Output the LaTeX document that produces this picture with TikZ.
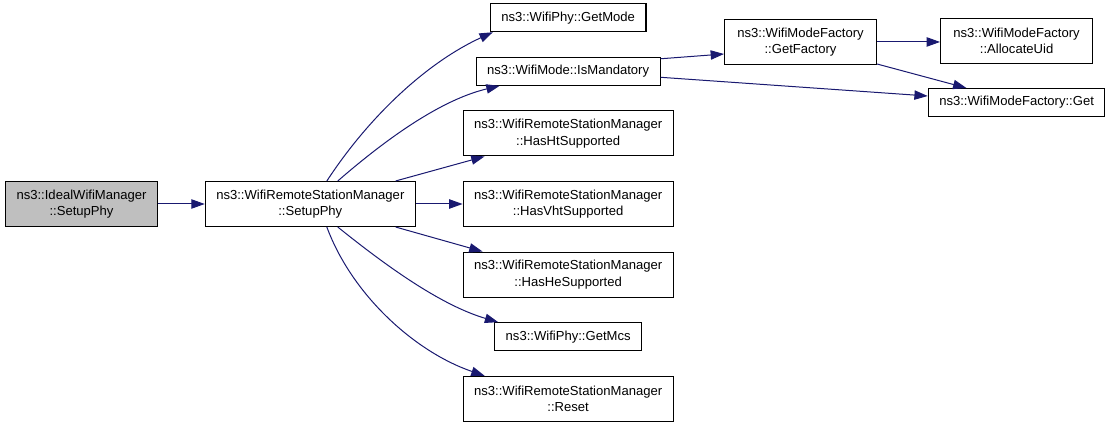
\documentclass[tikz,border=0pt]{standalone}
\usepackage{fontspec}
\setmainfont{Liberation Sans}
\usepackage{xcolor}
\usetikzlibrary{positioning,arrows.meta}
\definecolor{edgeblue}{HTML}{191970}
\definecolor{nodegray}{HTML}{BFBFBF}
\tikzstyle{func} = [rectangle, draw=black, line width=0.8pt, fill=white, inner xsep=8.25pt, inner ysep=0pt, minimum height=21pt, align=center, font=\fontsize{9.8}{12.5}\selectfont]
\tikzstyle{twoline} = [minimum height=33.75pt]
\tikzstyle{call} = [draw=edgeblue, line width=0.75pt, -{Triangle[length=10pt,width=7pt]}]

\begin{document}
\begin{tikzpicture}[x=0.75pt, y=-0.75pt, node distance=18.4pt]

		\useasboundingbox (0,0) rectangle (1107,424);

		\node (ideal) [func, twoline, fill=nodegray, anchor=west] at (5,204) {ns3::IdealWifiManager\\::SetupPhy};
		\node (setup) [func, twoline, right=35pt of ideal] {ns3::WifiRemoteStationManager\\::SetupPhy};
		\node (hasvht) [func, twoline, right=35pt of setup] {ns3::WifiRemoteStationManager\\::HasVhtSupported};
		\node (hasht) [func, twoline, above=of hasvht] {ns3::WifiRemoteStationManager\\::HasHtSupported};
		\node (ismand) [func, above=of hasht] {ns3::WifiMode::IsMandatory};
		\node (getmode) [func, above=of ismand] {ns3::WifiPhy::GetMode};
		\node (hashe) [func, twoline, below=of hasvht] {ns3::WifiRemoteStationManager\\::HasHeSupported};
		\node (getmcs) [func, below=of hashe] {ns3::WifiPhy::GetMcs};
		\node (reset) [func, twoline, below=of getmcs] {ns3::WifiRemoteStationManager\\::Reset};
		\node (getfactory) [func, twoline, right=47.5pt of ismand, yshift=22pt, minimum width=114pt] {ns3::WifiModeFactory\\::GetFactory};
		\node (allocuid) [func, twoline, right=47.25pt of getfactory, yshift=0.75pt, minimum width=114pt] {ns3::WifiModeFactory\\::AllocateUid};
		\node (get) [func, below=18pt of allocuid] {ns3::WifiModeFactory::Get};

		\draw [call] (ideal) -- (setup);
		\draw [call] ([xshift=12.4pt]setup.north) .. controls (370,115) and (428,62) .. ([xshift=2.25pt]getmode.south west);
		\draw [call] ([xshift=20.6pt]setup.north) .. controls (385,140) and (440,100) .. ([xshift=18pt]ismand.south west);
		\draw [call] ([xshift=64pt]setup.north) -- ([xshift=16.5pt]hasht.south west);
		\draw [call] (setup) -- (hasvht);
		\draw [call] ([xshift=64pt]setup.south) -- ([xshift=15pt]hashe.north west);
		\draw [call] ([xshift=20.6pt]setup.south) .. controls (385,265) and (440,305) .. ([xshift=3pt]getmcs.north west);
		\draw [call] ([xshift=12.4pt]setup.south) .. controls (352,295) and (415,352) .. ([xshift=16.5pt]reset.north west);
		\draw [call] ([yshift=-1.5pt]ismand.north east) -- ([yshift=8.25pt]getfactory.south west);
		\draw [call] ([yshift=-4.5pt]ismand.east) -- ([yshift=4.9pt]get.west);
		\draw [call] (getfactory.east) -- (allocuid.west |- getfactory.east);
		\draw [call] ([yshift=0.75pt]getfactory.south east) -- ([xshift=29pt]get.north west);

\end{tikzpicture}
\end{document}
